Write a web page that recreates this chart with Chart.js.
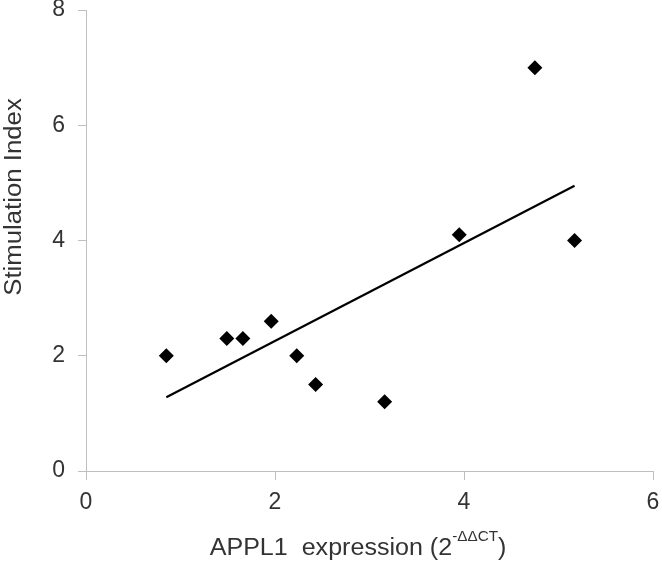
<!DOCTYPE html>
<html>
<head>
<meta charset="utf-8">
<script src="https://cdn.jsdelivr.net/npm/chart.js@4.4.1/dist/chart.umd.min.js"></script>
<style>
  body { margin: 0; background: #fff; }
</style>
</head>
<body>
<canvas id="myChart" width="662" height="566"></canvas>
<script>
// values
var xValues = [0.85, 1.49, 1.66, 1.96, 2.23, 2.43, 3.16, 3.95, 4.75, 5.17];
var yValues = [2.0, 2.3, 2.3, 2.6, 2.0, 1.5, 1.2, 4.1, 7.0, 4.0];
// trendline end points
var trendX = [0.85, 5.17];
var trendY = [1.28, 4.95];
var xTicks = [0, 2, 4, 6];
var yTicks = [0, 2, 4, 6, 8];

var axisGrey = '#bfbfbf';
var textColor = '#333333';
var fontName = "'Liberation Sans', Arial, sans-serif";

// axis titles drawn by hand so the x one can carry a superscript
var titlesPlugin = {
    id: 'titles',
    afterDraw: function(chart) {
        var c = chart.ctx;
        c.save();
        c.fillStyle = textColor;
        c.textBaseline = 'alphabetic';

        // y title (a bit wider than plain Arial, like the original)
        c.save();
        c.translate(21, 197);
        c.rotate(-Math.PI / 2);
        c.scale(1.12, 1);
        c.font = '23px ' + fontName;
        c.textAlign = 'center';
        c.fillText('Stimulation Index', 0, 0);
        c.restore();

        // x title: "APPL1  expression (2" + sup "-ΔΔCT" + ")"
        var main = 'APPL1  expression (2';
        var sup = '-\u0394\u0394CT';
        c.font = '23px ' + fontName;
        var w1 = c.measureText(main).width;
        var w3 = c.measureText(')').width;
        c.font = '14px ' + fontName;
        var w2 = c.measureText(sup).width;
        var sx = 1.09;
        c.save();
        c.translate(358, 555);
        c.scale(sx, 1);
        var x0 = -(w1 + w2 + w3) / 2;
        c.textAlign = 'left';
        c.font = '23px ' + fontName;
        c.fillText(main, x0, 0);
        c.font = '14px ' + fontName;
        c.fillText(sup, x0 + w1, -14);
        c.font = '23px ' + fontName;
        c.fillText(')', x0 + w1 + w2, 0);
        c.restore();
        c.restore();
    }
};

var points = xValues.map(function(x, i) { return { x: x, y: yValues[i] }; });
var trend = trendX.map(function(x, i) { return { x: x, y: trendY[i] }; });

function noPad(s) {
    s.paddingTop = 0; s.paddingBottom = 0;
    s.paddingLeft = 0; s.paddingRight = 0;
}

var ctx = document.getElementById('myChart').getContext('2d');
var chart = new Chart(ctx, {
    type: 'scatter',
    data: {
        datasets: [{
            label: 'Stimulation Index',
            data: points,
            pointStyle: 'rectRot',
            pointRadius: 7.5,
            backgroundColor: '#000',
            borderColor: '#000',
            borderWidth: 0
        }, {
            type: 'line',
            label: 'Trend',
            data: trend,
            borderColor: '#000',
            borderWidth: 2.2,
            pointRadius: 0,
            fill: false
        }]
    },
    options: {
        responsive: false,
        animation: false,
        layout: { padding: { left: 0, top: 10, right: 9, bottom: 0 } },
        plugins: {
            legend: { display: false },
            tooltip: { enabled: false }
        },
        scales: {
            x: {
                type: 'linear',
                min: xTicks[0],
                max: xTicks[xTicks.length - 1],
                afterBuildTicks: function(s) { s.ticks = xTicks.map(function(v) { return { value: v }; }); },
                afterFit: function(s) { s.height = 95; noPad(s); },
                grid: { drawOnChartArea: false, drawTicks: true, tickLength: 9, color: axisGrey },
                border: { color: axisGrey, width: 1 },
                ticks: { padding: 9, color: textColor, font: { family: fontName, size: 23 } }
            },
            y: {
                type: 'linear',
                min: yTicks[0],
                max: yTicks[yTicks.length - 1],
                afterBuildTicks: function(s) { s.ticks = yTicks.map(function(v) { return { value: v }; }); },
                afterFit: function(s) { s.width = 86; noPad(s); },
                grid: { drawOnChartArea: false, drawTicks: true, tickLength: 8, color: axisGrey },
                border: { color: axisGrey, width: 1 },
                ticks: { padding: 13, color: textColor, font: { family: fontName, size: 23 } }
            }
        }
    },
    plugins: [titlesPlugin]
});
</script>
</body>
</html>
